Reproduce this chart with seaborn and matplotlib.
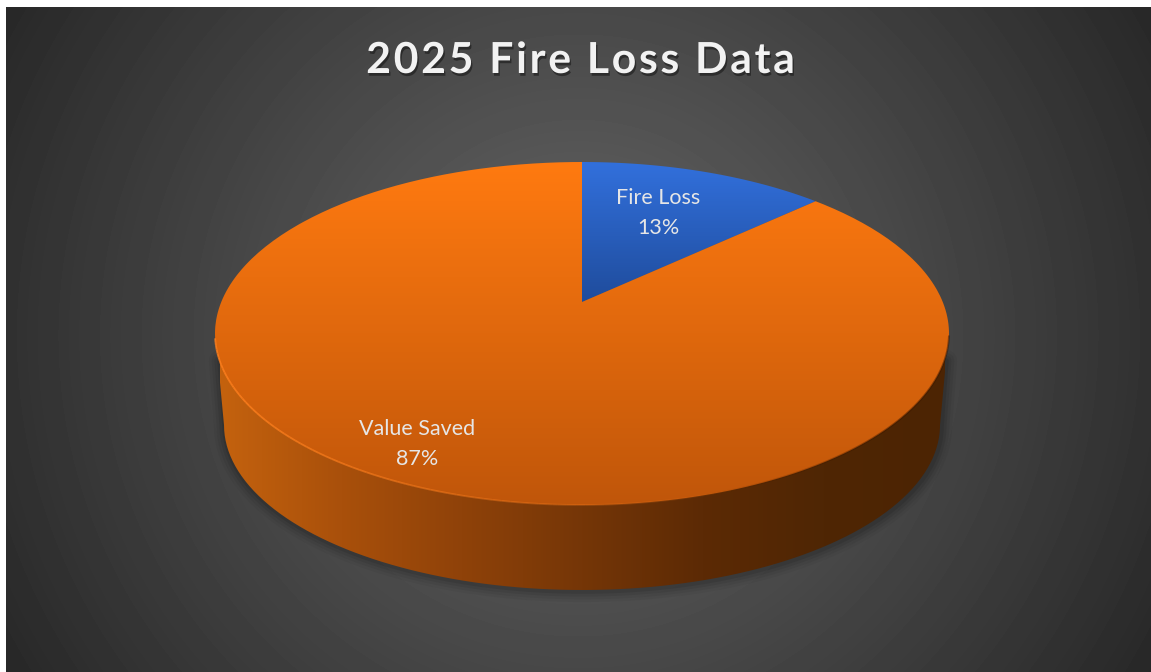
import numpy as np
import seaborn as sns
import matplotlib.pyplot as plt
import matplotlib.patheffects as pe
from matplotlib.collections import LineCollection
from matplotlib.patches import PathPatch
from matplotlib.path import Path
from matplotlib.transforms import Affine2D

categories = ["Fire Loss", "Value Saved"]
values = [13, 87]
title = "2025 Fire Loss Data"

W, H = 1151, 672

sns.set_theme(style="white")
plt.rcParams['font.family'] = ['Lato', 'DejaVu Sans']


def project(pts):
    # tilted disc: unit circle to pixels, so the apex sits above the ellipse centre
    w = 1 + 0.1837 * pts[:, 1]
    return np.column_stack([582 + 360.75 * pts[:, 0] / w,
                            (302 - 110.24 * pts[:, 1]) / w])


def fill_gradient(ax, patch, colors, vertical=True, extent=(0, W, H, 0)):
    ax.add_patch(patch)
    cmap = sns.blend_palette(colors, as_cmap=True)
    ramp = np.linspace(0, 1, 256)
    ramp = ramp[:, None] if vertical else ramp[None, :]
    im = ax.imshow(ramp, cmap=cmap, extent=extent, aspect="auto", vmin=0, vmax=1,
                   zorder=patch.get_zorder())
    im.set_clip_path(patch)


fig = plt.figure(figsize=(W / 100, H / 100), dpi=100, facecolor="white")
ax = fig.add_axes([0, 0, 1, 1])
wedges, _ = ax.pie(values, startangle=90, counterclock=False, radius=1)
polys = []
for w in wedges:
    flat = w.get_path().transformed(Affine2D().scale(1000)).to_polygons()[0] / 1000
    polys.append(project(flat))
    w.remove()

ax.set_aspect("auto")
ax.set_xlim(0, W)
ax.set_ylim(H, 0)
ax.axis("off")

# background, radial grey
yy, xx = np.mgrid[7:H, 6:W]
dist = np.hypot(xx - 578, yy - 335)
grey = np.interp(dist, [0, 180, 330, 570, 680], [0x5c, 0x56, 0x48, 0x31, 0x26]) / 255
ax.imshow(grey, cmap="gray", vmin=0, vmax=1, extent=(6, W, H, 7), aspect="auto", zorder=0)

# side wall
t = np.linspace(np.pi, 2 * np.pi, 200)
lower = np.column_stack([582 + 358 * np.cos(t), 425 - 165 * np.sin(t)])
side = np.vstack([[[216, 340]], lower, [[948, 340]], [[216, 340]]])
edge = np.vstack([[[219, 360]], lower, [[945, 360]]])
for lw, a in [(16, 0.04), (12, 0.05), (8, 0.07), (4, 0.09)]:
    ax.plot(edge[:, 0] + 1, edge[:, 1] + 1, color="black", lw=lw, alpha=a, zorder=1,
            solid_capstyle="round")
fill_gradient(ax, PathPatch(Path(side), fc="none", ec="none", zorder=2),
              ["#c4620e", "#a9500b", "#8f4209", "#753607", "#5c2a05", "#4f2604", "#4c2403"],
              vertical=False, extent=(220, 945, H, 0))

# top of the pie
tints = {"Fire Loss": (["#3270dc", "#1f4c9c"], (162, 302)),
         "Value Saved": (["#ff7a10", "#c0560a"], (162, 505))}
for name, poly in zip(categories, polys):
    colors, (y0, y1) = tints[name]
    fill_gradient(ax, PathPatch(Path(np.vstack([poly, poly[:1]])), fc="none", ec="none", zorder=3),
                  colors, extent=(0, W, y1, y0))

# rim light, bright on the left and gone by the right
rim = polys[1]
rim = rim[np.hypot(rim[:, 0] - 582, rim[:, 1] - 302) > 100]
rim = rim[rim[:, 1] > 335]
segs = np.stack([rim[:-1], rim[1:]], axis=1)
fade = 0.8 * np.clip((760 - segs[:, 0, 0]) / 540, 0, 1)
ax.add_collection(LineCollection(segs, colors=[(1, 0.5, 0.12, f) for f in fade],
                                 linewidths=1.3, zorder=4))
dark = np.clip((segs[:, 0, 0] - 700) / 200, 0, 1)
ax.add_collection(LineCollection(segs, colors=[(0.2, 0.08, 0, 0.45 * d) for d in dark],
                                 linewidths=1.4, zorder=4))

# labels
label_pos = {"Fire Loss": (658, 213), "Value Saved": (417, 444)}
for name, val in zip(categories, values):
    x, y = label_pos[name]
    ax.text(x, y, f"{name}\n{val}%", color="#e6e6e6", fontsize=15.5, ha="center", va="center",
            linespacing=1.58, zorder=6)

ax.text(580, 60, "\u200a".join(title), color="#f2f2f2", fontsize=30.8, fontweight="bold",
        ha="center", va="center", zorder=6,
        path_effects=[pe.withSimplePatchShadow(offset=(1, -2), shadow_rgbFace="black", alpha=0.4)])

fig.savefig("out.png", dpi=100, facecolor="white")
